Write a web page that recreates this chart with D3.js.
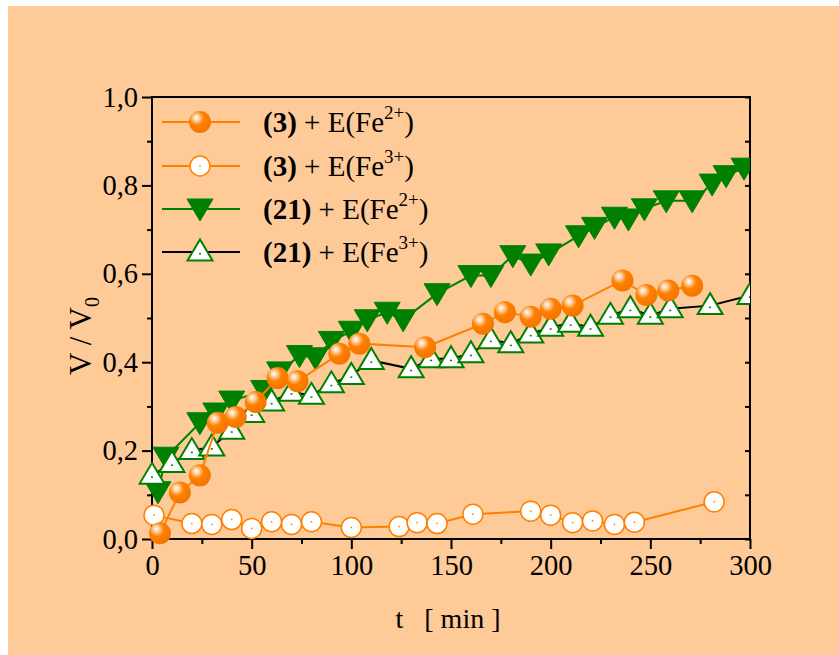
<!DOCTYPE html>
<html><head><meta charset="utf-8">
<script src="https://cdn.jsdelivr.net/npm/d3@7"></script>
<style>
html,body{margin:0;padding:0;background:#fff;}
svg{display:block;}
text{font-family:"Liberation Serif","Times New Roman",serif;fill:#000;}
</style></head>
<body>
<svg id="chart" width="839" height="655"></svg>
<script>
// ---- data ----
const xTicks = [0, 50, 100, 150, 200, 250, 300];
const xTickLabels = ["0", "50", "100", "150", "200", "250", "300"];
const xMinorTicks = [25, 75, 125, 175, 225, 275];
const yTicks = [0, 0.2, 0.4, 0.6, 0.8, 1.0];
const yTickLabels = ["0,0", "0,2", "0,4", "0,6", "0,8", "1,0"];
const yMinorTicks = [0.1, 0.3, 0.5, 0.7, 0.9];

// (3) + E(Fe2+)
const s1T = [4, 14, 24, 33, 42, 52, 63, 73, 94, 104, 137, 166, 177, 190, 200, 211, 236, 248, 259, 271];
const s1V = [0.013, 0.105, 0.144, 0.263, 0.276, 0.31, 0.364, 0.357, 0.419, 0.442, 0.434, 0.487, 0.513, 0.503, 0.521, 0.528, 0.585, 0.552, 0.562, 0.573];
// (3) + E(Fe3+)
const s2T = [1, 20, 30, 40, 50, 60, 70, 80, 100, 124, 133, 143, 161, 190, 200, 211, 221, 232, 242, 282];
const s2V = [0.054, 0.035, 0.033, 0.044, 0.024, 0.039, 0.033, 0.039, 0.026, 0.028, 0.037, 0.035, 0.056, 0.063, 0.054, 0.037, 0.041, 0.033, 0.038, 0.084];
// (21) + E(Fe2+)
const s3T = [3, 7, 24, 32, 40, 56, 64, 74, 82, 90, 100, 108, 118, 126, 143, 160, 170, 181, 190, 199, 214, 222, 232, 239, 247, 258, 271, 281, 288, 297];
const s3V = [0.107, 0.185, 0.263, 0.285, 0.312, 0.336, 0.378, 0.415, 0.41, 0.447, 0.47, 0.496, 0.513, 0.496, 0.555, 0.596, 0.596, 0.641, 0.622, 0.645, 0.686, 0.705, 0.728, 0.724, 0.747, 0.765, 0.765, 0.803, 0.822, 0.839];
// (21) + E(Fe3+)
const s4T = [0, 10, 20, 30, 40, 50, 60, 70, 80, 90, 100, 110, 130, 140, 150, 160, 170, 180, 190, 200, 210, 220, 230, 240, 250, 260, 280, 300];
const s4V = [0.144, 0.171, 0.2, 0.208, 0.246, 0.284, 0.31, 0.332, 0.325, 0.351, 0.37, 0.404, 0.385, 0.408, 0.408, 0.419, 0.451, 0.442, 0.464, 0.479, 0.488, 0.479, 0.506, 0.521, 0.506, 0.521, 0.528, 0.551];

const legendNames = ["3", "3", "21", "21"];
const legendIons = ["2+", "3+", "2+", "3+"];

// ---- setup ----
const svg = d3.select("#chart");
const W = 839, H = 655;
const orange = "#ff8000", green = "#008000";

svg.append("rect").attr("x", 8).attr("y", 6).attr("width", W - 8).attr("height", H - 6).attr("fill", "#fdca98");

const defs = svg.append("defs");
const grad = defs.append("radialGradient").attr("id", "sph").attr("cx", "38%").attr("cy", "35%").attr("r", "65%").attr("fx", "33%").attr("fy", "30%");
grad.append("stop").attr("offset", "0%").attr("stop-color", "#ffffff");
grad.append("stop").attr("offset", "20%").attr("stop-color", "#ffd2a6");
grad.append("stop").attr("offset", "50%").attr("stop-color", "#ff8000");
grad.append("stop").attr("offset", "100%").attr("stop-color", "#f27600");

const x = d3.scaleLinear().domain([0, 300]).range([152, 750]);
const y = d3.scaleLinear().domain([0, 1]).range([539, 97]);

defs.append("clipPath").attr("id", "clip").append("rect")
  .attr("x", x(0) - 14).attr("y", y(1)).attr("width", x(300) - x(0) + 14).attr("height", y(0) - y(1) + 14);

// ---- axes ----
const fontTick = 28.5;
const xAxis = d3.axisBottom(x).tickValues(xTicks).tickSize(10).tickPadding(5)
  .tickFormat((d, i) => xTickLabels[i]);
const gx = svg.append("g").attr("transform", `translate(0,${y(0)})`).call(xAxis);
const gxm = svg.append("g").attr("transform", `translate(0,${y(0)})`)
  .call(d3.axisBottom(x).tickValues(xMinorTicks).tickSize(5).tickFormat(""));
const yAxis = d3.axisLeft(y).tickValues(yTicks).tickSize(10).tickPadding(4)
  .tickFormat((d, i) => yTickLabels[i]);
const gy = svg.append("g").attr("transform", `translate(${x(0)},0)`).call(yAxis);
const gym = svg.append("g").attr("transform", `translate(${x(0)},0)`)
  .call(d3.axisLeft(y).tickValues(yMinorTicks).tickSize(5).tickFormat(""));
const gyr = svg.append("g").attr("transform", `translate(${x(300)},0)`)
  .call(d3.axisLeft(y).tickValues(yTicks.concat(yMinorTicks)).tickSize(5).tickFormat(""));
[gx, gxm, gy, gym, gyr].forEach(g => {
  g.select(".domain").remove();
  g.selectAll(".tick line").attr("stroke", "#000").attr("stroke-width", 2);
  g.selectAll("text").style("font-size", fontTick + "px").attr("fill", "#000")
    .style("font-family", '"Liberation Serif", serif');
});
gx.selectAll("text").attr("dy", "0.74em");
gyr.selectAll(".tick line").attr("transform", "scale(-1,1)").attr("x2", 5);

// frame
svg.append("rect").attr("x", x(0)).attr("y", y(1)).attr("width", x(300) - x(0)).attr("height", y(0) - y(1))
  .attr("fill", "none").attr("stroke", "#000").attr("stroke-width", 2);

// titles
svg.append("text").attr("x", 448).attr("y", 628).attr("text-anchor", "middle")
  .style("font-size", "28px").attr("xml:space", "preserve").text("t   [ min ]");
const yt = svg.append("text").attr("transform", "translate(91,336) rotate(-90)").attr("text-anchor", "middle")
  .style("font-size", "31px").attr("xml:space", "preserve");
yt.append("tspan").text("V / V");
yt.append("tspan").attr("dy", 8).style("font-size", "20px").text("0");

// ---- series ----
const plot = svg.append("g").attr("clip-path", "url(#clip)");
const line = d3.line().x(d => x(d[0])).y(d => y(d[1]));
const zip = (a, b) => a.map((v, i) => [v, b[i]]);
const d1 = zip(s1T, s1V), d2 = zip(s2T, s2V), d3d = zip(s3T, s3V), d4 = zip(s4T, s4V);

function downTri(g, cx, cy) {
  const s = 13, h = 22;
  g.append("path").attr("d", `M${cx - s},${cy - h / 2 + 1}L${cx + s},${cy - h / 2 + 1}L${cx},${cy + h / 2 + 1}Z`)
    .attr("fill", green).attr("stroke", green).attr("stroke-width", 1);
}
function upTri(g, cx, cy) {
  const s = 12.5, h = 21;
  g.append("path").attr("d", `M${cx - s},${cy + h / 2 - 2}L${cx + s},${cy + h / 2 - 2}L${cx},${cy - h / 2 - 2}Z`)
    .attr("fill", "#fff").attr("stroke", green).attr("stroke-width", 2);
  g.append("rect").attr("x", cx - 1).attr("y", cy + 1).attr("width", 2).attr("height", 1.5).attr("fill", green);
}
function openCirc(g, cx, cy) {
  g.append("circle").attr("cx", cx).attr("cy", cy).attr("r", 10).attr("fill", "#fff").attr("stroke", orange).attr("stroke-width", 1.5);
  g.append("rect").attr("x", cx - 0.75).attr("y", cy - 0.75).attr("width", 1.5).attr("height", 1.5).attr("fill", orange);
}
function sphere(g, cx, cy) {
  g.append("circle").attr("cx", cx).attr("cy", cy).attr("r", 11).attr("fill", "url(#sph)");
}

plot.append("path").datum(d3d).attr("d", line).attr("fill", "none").attr("stroke", green).attr("stroke-width", 2);
const gC = plot.append("g");
d3d.forEach(d => downTri(gC, x(d[0]), y(d[1])));
plot.append("path").datum(d4).attr("d", line).attr("fill", "none").attr("stroke", "#000").attr("stroke-width", 2);
const gD = plot.append("g");
d4.forEach(d => upTri(gD, x(d[0]), y(d[1])));
plot.append("path").datum(d2).attr("d", line).attr("fill", "none").attr("stroke", orange).attr("stroke-width", 2);
const gB = plot.append("g");
d2.forEach(d => openCirc(gB, x(d[0]), y(d[1])));
plot.append("path").datum(d1).attr("d", line).attr("fill", "none").attr("stroke", orange).attr("stroke-width", 2);
const gA = plot.append("g");
d1.forEach(d => sphere(gA, x(d[0]), y(d[1])));

// ---- legend ----
const legY = [122, 166, 209, 252];
const legLineColor = [orange, orange, green, "#000"];
const markers = [sphere, openCirc, downTri, upTri];
const leg = svg.append("g");
legY.forEach((ly, i) => {
  leg.append("line").attr("x1", 162).attr("x2", 240).attr("y1", ly).attr("y2", ly)
    .attr("stroke", legLineColor[i]).attr("stroke-width", 2);
  markers[i](leg, 200, ly);
  const t = leg.append("text").attr("x", 263).attr("y", ly + 10).style("font-size", "29px").attr("xml:space", "preserve");
  t.append("tspan").style("font-weight", "bold").text("(" + legendNames[i] + ")");
  t.append("tspan").text(" + E(Fe");
  t.append("tspan").attr("dy", -13).style("font-size", "19px").text(legendIons[i]);
  t.append("tspan").attr("dy", 13).text(")");
});
</script>
</body></html>
